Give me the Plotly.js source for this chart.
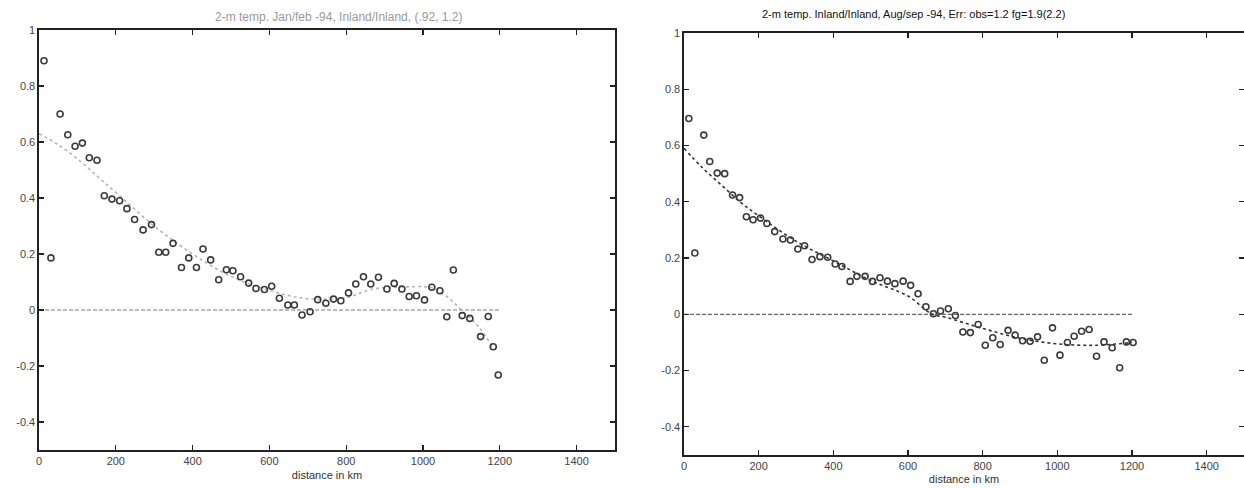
<!DOCTYPE html>
<html>
<head>
<meta charset="utf-8">
<script src="https://cdn.plot.ly/plotly-3.0.1.min.js"></script>
<style>
  html, body { margin: 0; padding: 0; background: #fff; }
  #chart { width: 1244px; height: 488px; }
</style>
</head>
<body>
<div id="chart"></div>
<script>
// Jan/feb -94: binned correlation of 2-m temperature errors vs station distance
const janDist = [13, 31, 55, 75, 94, 113, 131, 151, 170, 190, 210, 229, 249, 271, 293, 312, 330, 349, 371, 390,
  410, 427, 447, 468, 488, 505, 525, 546, 565, 587, 606, 626, 648, 665, 685, 706, 726, 747, 767, 786,
  806, 825, 845, 864, 884, 906, 925, 945, 964, 983, 1004, 1023, 1044, 1062, 1079, 1102, 1122, 1150, 1170, 1183, 1196];
const janCorr = [0.89, 0.186, 0.70, 0.626, 0.585, 0.596, 0.544, 0.535, 0.408, 0.396, 0.39, 0.362, 0.323, 0.286, 0.305, 0.206, 0.206, 0.238, 0.152, 0.186,
  0.152, 0.218, 0.179, 0.108, 0.144, 0.140, 0.119, 0.096, 0.077, 0.073, 0.085, 0.042, 0.018, 0.018, -0.018, -0.006, 0.037, 0.024, 0.039, 0.033,
  0.061, 0.093, 0.119, 0.093, 0.117, 0.075, 0.095, 0.075, 0.048, 0.051, 0.036, 0.081, 0.069, -0.024, 0.143, -0.02, -0.030, -0.095, -0.023, -0.131, -0.232];
// smoothed fit through the Jan/feb points
const janFitDist = [0, 50, 100, 150, 200, 300, 400, 500, 600, 700, 800, 870, 950, 1020, 1060, 1100, 1145, 1180];
const janFitCorr = [0.63, 0.59, 0.54, 0.48, 0.42, 0.30, 0.20, 0.12, 0.07, 0.04, 0.045, 0.075, 0.082, 0.08, 0.05, 0.0, -0.06, -0.13];

// Aug/sep -94
const augDist = [13, 29, 53, 69, 89, 109, 130, 149, 167, 185, 205, 222, 243, 265, 285, 305, 323, 343, 364, 385,
  405, 423, 445, 463, 485, 505, 525, 545, 565, 587, 607, 627, 648, 668, 687, 708, 727, 747, 767, 788,
  807, 827, 847, 868, 887, 907, 927, 947, 965, 987, 1007, 1027, 1045, 1065, 1085, 1105, 1125, 1147, 1167, 1185, 1203];
const augCorr = [0.696, 0.218, 0.637, 0.543, 0.502, 0.500, 0.424, 0.415, 0.347, 0.336, 0.342, 0.323, 0.294, 0.268, 0.264, 0.232, 0.244, 0.195, 0.205, 0.203,
  0.179, 0.170, 0.117, 0.135, 0.135, 0.117, 0.130, 0.118, 0.109, 0.118, 0.103, 0.073, 0.027, 0.002, 0.012, 0.020, -0.004, -0.063, -0.065, -0.036,
  -0.110, -0.083, -0.107, -0.057, -0.074, -0.094, -0.096, -0.080, -0.163, -0.048, -0.145, -0.100, -0.078, -0.060, -0.054, -0.149, -0.098, -0.119, -0.190, -0.098, -0.100];
const augFitDist = [0, 50, 100, 150, 200, 300, 400, 500, 600, 665, 700, 800, 900, 1000, 1100, 1200];
const augFitCorr = [0.59, 0.52, 0.46, 0.40, 0.35, 0.26, 0.19, 0.12, 0.065, 0.0, -0.01, -0.05, -0.085, -0.105, -0.11, -0.10];

// zero reference line
const zeroDist = [0, 1200];
const zeroCorr = [0, 0];

const xTicks = [0, 200, 400, 600, 800, 1000, 1200, 1400];
const yTicks = [-0.4, -0.2, 0, 0.2, 0.4, 0.6, 0.8, 1];
const yTickText = ['-0.4', '-0.2', '0', '0.2', '0.4', '0.6', '0.8', '1'];

const leftTitle = '2-m temp. Jan/feb -94, Inland/Inland, (.92, 1.2)';
const rightTitle = '2-m temp. Inland/Inland, Aug/sep -94, Err: obs=1.2 fg=1.9(2.2)';
const xLabel = 'distance in km';

const FONT = 'Liberation Sans, Arial, Helvetica, sans-serif';

function markers(x, y, xa, ya) {
  return {
    x: x, y: y, xaxis: xa, yaxis: ya, type: 'scatter', mode: 'markers',
    marker: { symbol: 'circle-open', size: 6, color: '#3a3a3a', line: { width: 1.6, color: '#3a3a3a' } },
    hoverinfo: 'x+y', showlegend: false
  };
}
function curve(x, y, xa, ya, color, dash, width) {
  return {
    x: x, y: y, xaxis: xa, yaxis: ya, type: 'scatter', mode: 'lines',
    line: { color: color, dash: dash, width: width, shape: 'spline', smoothing: 1 },
    hoverinfo: 'skip', showlegend: false
  };
}

const traces = [
  curve(zeroDist, zeroCorr, 'x', 'y', '#7a7a7a', '4px,2px', 1.2),
  curve(janFitDist, janFitCorr, 'x', 'y', '#b5b5b5', 'dot', 1.6),
  markers(janDist, janCorr, 'x', 'y'),
  curve(zeroDist, zeroCorr, 'x2', 'y2', '#6a6a6a', '4px,2px', 1.2),
  curve(augFitDist, augFitCorr, 'x2', 'y2', '#333', 'dot', 1.6),
  markers(augDist, augCorr, 'x2', 'y2')
];

function xAxis(domain, anchor, standoff) {
  return {
    domain: domain, anchor: anchor, range: [0, 1500],
    tickvals: xTicks, ticks: 'inside', ticklen: 5, tickwidth: 1.2, tickcolor: '#222',
    showline: true, linecolor: '#222', linewidth: 1.6, mirror: 'ticks',
    showgrid: false, zeroline: false,
    tickfont: { family: FONT, size: 11, color: '#444' },
    title: { text: xLabel, font: { family: FONT, size: 11, color: '#333' }, standoff: standoff }
  };
}
function yAxis(domain, anchor) {
  return {
    domain: domain, anchor: anchor, range: [-0.5, 1],
    tickvals: yTicks, ticktext: yTickText, ticks: 'inside', ticklen: 5, tickwidth: 1.2, tickcolor: '#222',
    showline: true, linecolor: '#222', linewidth: 1.6, mirror: 'ticks',
    showgrid: false, zeroline: false,
    tickfont: { family: FONT, size: 11, color: '#444' }
  };
}

const layout = {
  width: 1244, height: 488,
  margin: { l: 0, r: 0, t: 0, b: 0, autoexpand: false },
  paper_bgcolor: '#fff', plot_bgcolor: '#fff',
  xaxis: xAxis([39 / 1244, 615 / 1244], 'y', 5),
  yaxis: yAxis([38 / 488, 458 / 488], 'x'),
  xaxis2: xAxis([684 / 1244, 1], 'y2', 4),
  yaxis2: yAxis([33 / 488, 455 / 488], 'x2'),
  annotations: [
    { text: leftTitle, xref: 'paper', yref: 'paper', x: 338 / 1244, y: (488 - 17) / 488,
      xanchor: 'center', yanchor: 'middle', showarrow: false,
      font: { family: FONT, size: 12, color: '#9a9a9a' } },
    { text: rightTitle, xref: 'paper', yref: 'paper', x: 913 / 1244, y: (488 - 14) / 488,
      xanchor: 'center', yanchor: 'middle', showarrow: false,
      font: { family: FONT, size: 11, color: '#111' } }
  ]
};

Plotly.newPlot('chart', traces, layout, { displayModeBar: false, staticPlot: true });
</script>
</body>
</html>
